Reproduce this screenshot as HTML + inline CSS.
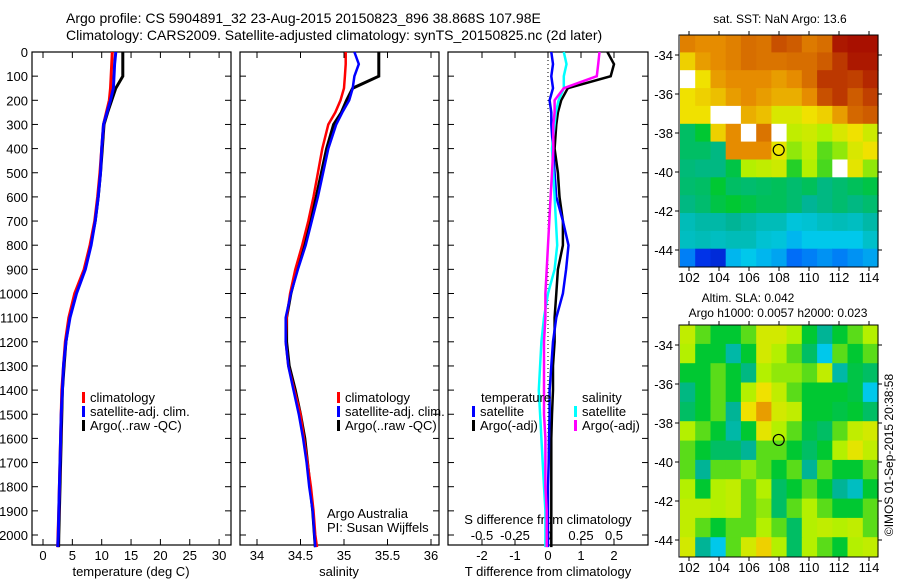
<!DOCTYPE html>
<html><head><meta charset="utf-8"><style>
html,body{margin:0;padding:0;background:#fff;}
svg{display:block;font-family:"Liberation Sans",sans-serif;}
</style></head><body>
<svg id="fig" width="900" height="580" viewBox="0 0 900 580" xmlns="http://www.w3.org/2000/svg">
<text x="66" y="23" font-size="14">Argo profile: CS 5904891_32 23-Aug-2015 20150823_896 38.868S 107.98E</text>
<text x="66" y="40" font-size="14">Climatology: CARS2009. Satellite-adjusted climatology: synTS_20150825.nc (2d later)</text>
<g id="plots"></g>
</svg>
<script>
// ---------- data ----------
const depthClim = [0,50,100,150,200,250,300,400,500,600,700,800,900,1000,1100,1200,1300,1400,1500,1600,1700,1800,1900,2000,2050];
const tempClim  = [11.8,11.7,11.6,11.5,11.3,10.8,10.3,10.0,9.7,9.3,8.8,8.0,7.0,5.4,4.4,3.8,3.5,3.2,3.1,3.0,2.9,2.8,2.7,2.55,2.5];
const tempSat   = [12.4,12.2,12.1,12.0,11.5,10.9,10.3,10.0,9.8,9.4,8.9,8.2,7.2,5.7,4.6,3.9,3.5,3.3,3.1,3.0,2.9,2.8,2.7,2.6,2.5];
const tempArgo  = [13.6,13.6,13.6,12.4,11.7,11.0,10.4,10.1,9.8,9.4,8.9,8.1,7.1,5.6,4.5,3.9,3.6,3.3,3.2,3.1,3.0,2.9,2.8,2.7,2.65];
const salClim   = [35.02,35.02,35.01,35.0,34.96,34.9,34.82,34.75,34.70,34.65,34.59,34.52,34.44,34.38,34.34,34.33,34.36,34.43,34.50,34.54,34.58,34.62,34.65,34.67,34.69];
const salSat    = [35.12,35.17,35.12,35.1,35.06,34.98,34.91,34.82,34.76,34.70,34.63,34.56,34.47,34.39,34.33,34.33,34.36,34.42,34.48,34.53,34.57,34.60,34.64,34.66,34.67];
const salArgo   = [35.4,35.4,35.4,35.1,35.03,34.97,34.88,34.80,34.74,34.68,34.61,34.54,34.46,34.39,34.34,34.34,34.37,34.44,34.50,34.55,34.58,34.61,34.64,34.66,34.67];
const dTSat  = [0.1,0.15,0.1,0.15,0.05,0.1,0.1,0.15,0.2,0.25,0.45,0.62,0.55,0.45,0.25,0.15,0.1,0.05,0.05,0.03,0.02,0.0,0.0,0.0,0.0];
const dTArgo = [1.8,2.0,1.9,0.6,0.4,0.3,0.25,0.2,0.3,0.35,0.45,0.45,0.3,0.25,0.2,0.2,0.15,0.15,0.12,0.1,0.1,0.1,0.1,0.1,0.1];
const dSSat  = [0.12,0.14,0.12,0.12,0.08,0.06,0.05,0.03,0.04,0.05,0.06,0.07,0.05,0.0,-0.03,-0.05,-0.06,-0.07,-0.06,-0.05,-0.04,-0.03,-0.02,-0.02,-0.02];
const dSArgo = [0.39,0.38,0.37,0.12,0.05,0.05,0.04,0.04,0.03,0.02,0.01,0.0,-0.01,-0.02,-0.02,-0.03,-0.03,-0.03,-0.03,-0.02,-0.02,-0.02,-0.01,-0.01,-0.01];
const depthTicks = [0,100,200,300,400,500,600,700,800,900,1000,1100,1200,1300,1400,1500,1600,1700,1800,1900,2000];
const tempTicks = [0,5,10,15,20,25,30];
const salTicks = ["34","34.5","35","35.5","36"];
const dTTicks = [-2,-1,0,1,2];
const dSTickLabels = ["-0.5","-0.25","0","0.25","0.5"];
const lonTicks = [102,104,106,108,110,112,114];
const latTicks = [-34,-36,-38,-40,-42,-44];
const sstGrid = [
[.82,.80,.80,.82,.85,.84,.90,.88,.83,.85,.97,.98,.98],
[.72,.78,.80,.82,.85,.84,.84,.85,.85,.88,.93,.97,.97],
[null,.70,.78,.80,.80,.80,.78,.80,.85,.93,.93,.92,.95],
[.70,.72,.74,.78,.80,.78,.76,.76,.80,.90,.93,.88,.92],
[.70,.70,null,null,.76,.74,.66,.66,.70,.72,.78,.86,.88],
[.45,.50,.72,.80,null,.84,null,.62,.64,.60,.66,.70,.64],
[.45,.45,.42,.80,.80,.80,.68,.58,.62,.55,.58,.66,.70],
[.43,.42,.42,.48,.60,.62,.64,.52,.60,.54,null,.68,.58],
[.44,.45,.50,.45,.44,.45,.46,.44,.46,.42,.44,.46,.48],
[.42,.44,.48,.50,.48,.46,.46,.44,.40,.42,.44,.42,.44],
[.36,.38,.38,.40,.38,.36,.36,.32,.33,.35,.36,.35,.38],
[.35,.36,.35,.36,.36,.33,.32,.28,.30,.30,.30,.30,.34],
[.22,.12,.10,.28,.30,.28,.26,.20,.22,.24,.22,.24,.26]];
const slaGrid = [
[.62,.55,.50,.50,.55,.65,.65,.60,.50,.40,.50,.55,.60],
[.60,.50,.50,.38,.50,.65,.60,.55,.45,.30,.55,.50,.55],
[.50,.50,.55,.50,.42,.60,.58,.58,.55,.62,.38,.48,.45],
[.42,.50,.55,.50,.60,.70,.62,.55,.50,.50,.50,.48,.30],
[.45,.50,.55,.40,.70,.78,.65,.62,.50,.50,.48,.50,.45],
[.60,.55,.50,.38,.50,.68,.60,.55,.48,.45,.55,.62,.65],
[.55,.50,.45,.45,.40,.55,.55,.50,.45,.50,.60,.68,.62],
[.55,.40,.55,.55,.58,.55,.50,.55,.40,.55,.50,.50,.55],
[.60,.50,.60,.62,.55,.60,.45,.50,.55,.50,.40,.35,.50],
[.62,.62,.60,.62,.55,.58,.45,.55,.60,.55,.50,.50,.55],
[.62,.55,.50,.55,.55,.60,.55,.45,.60,.62,.60,.62,.55],
[.65,.40,.30,.55,.65,.72,.60,.45,.60,.55,.50,.60,.62]];
const argoLon = 107.98, argoLat = -38.868;

// ---------- helpers ----------
const NS="http://www.w3.org/2000/svg";
const root=document.getElementById('plots');
function mk(tag,attrs,parent){const e=document.createElementNS(NS,tag);for(const k in attrs)e.setAttribute(k,attrs[k]);(parent||root).appendChild(e);return e;}
function txt(x,y,s,size,anchor,parent){const t=mk('text',{x:x,y:y,'font-size':size||13,'text-anchor':anchor||'start'},parent);t.textContent=s;return t;}
const yD=d=>52+d*0.2415;
const Y0=52,Y1=545;

function panel(name,x0,x1){
  const g=mk('g',{});
  
  
  const r=mk('rect',{x:x0,y:Y0,width:x1-x0,height:Y1-Y0,fill:'none',stroke:'#000','stroke-width':1.2},g);
  
  
  depthTicks.forEach(d=>{const y=yD(d);mk('line',{x1:x0,x2:x0+6,y1:y,y2:y,stroke:'#000'},g);mk('line',{x1:x1-6,x2:x1,y1:y,y2:y,stroke:'#000'},g);});
  return g;
}
function xticks(g,xs,labels,x0,x1,ly){
  xs.forEach((x,i)=>{mk('line',{x1:x,x2:x,y1:Y1,y2:Y1-6,stroke:'#000'},g);mk('line',{x1:x,x2:x,y1:Y0,y2:Y0+6,stroke:'#000'},g);
    if(labels){const t=txt(x,ly,labels[i],13,'middle',g);}});
}
function line(g,xs,depths,color,name,w){
  const pts=xs.map((v,i)=>v.toFixed(1)+','+yD(depths[i]).toFixed(1)).join(' ');
  const p=mk('polyline',{points:pts,fill:'none',stroke:color,'stroke-width':w||2.5,'stroke-linejoin':'miter'},g);
  
  
}
function legend(g,x,y,color,label){
  mk('rect',{x:x,y:y-10,width:3,height:11,fill:color},g);
  const t=txt(x+8,y,label,13,'start',g);
  
  
}

const gy=mk('g',{});


depthTicks.forEach(d=>txt(28,yD(d)+5,String(d),13,'end',gy));

// ---------- panel 1 temperature ----------
const xT=t=>43+t*5.87;
const p1=panel('temperature-panel',32,231);
xticks(p1,tempTicks.map(xT),tempTicks.map(String),32,231,560);
const t1=txt(131,576,'temperature (deg C)',13,'middle',p1);

line(p1,tempArgo.map(xT),depthClim,'#000','argo-temperature-line',3);
line(p1,tempClim.map(xT),depthClim,'#f00','climatology-temperature-line',3);
line(p1,tempSat.map(xT),depthClim,'#00f','satellite-temperature-line',3);
legend(p1,82,402,'#f00','climatology');legend(p1,82,416,'#00f','satellite-adj. clim.');legend(p1,82,430,'#000','Argo(..raw -QC)');

// ---------- panel 2 salinity ----------
const xS=s=>257+(s-34)*87;
const p2=panel('salinity-panel',240,439);
xticks(p2,salTicks.map(s=>xS(parseFloat(s))),salTicks,240,439,560);
const t2=txt(339,576,'salinity',13,'middle',p2);

line(p2,salArgo.map(xS),depthClim,'#000','argo-salinity-line',3);
line(p2,salClim.map(xS),depthClim,'#f00','climatology-salinity-line',2.5);
line(p2,salSat.map(xS),depthClim,'#00f','satellite-salinity-line',2.5);
legend(p2,337,402,'#f00','climatology');legend(p2,337,416,'#00f','satellite-adj. clim.');legend(p2,337,430,'#000','Argo(..raw -QC)');
txt(327,518,'Argo Australia',13,'start',p2);
txt(327,532,'PI: Susan Wijffels',13,'start',p2);

// ---------- panel 3 differences ----------
const xdT=t=>548+t*33;
const xdS=s=>548+s*132;
const p3=panel('difference-panel',448,648);
xticks(p3,dTTicks.map(xdT),dTTicks.map(String),448,648,560);
dSTickLabels.forEach(s=>{const t=txt(xdS(parseFloat(s)),540,s,13,'middle',p3);});
txt(548,524,'S difference from climatology',13,'middle',p3);
txt(548,576,'T difference from climatology',13,'middle',p3);
mk('line',{x1:548,x2:548,y1:Y0,y2:Y1,stroke:'#000','stroke-dasharray':'1,3'},p3);
line(p3,dTArgo.map(xdT),depthClim,'#000','argo-t-diff-line',2.5);
line(p3,dTSat.map(xdT),depthClim,'#00f','satellite-t-diff-line',2.5);
line(p3,dSSat.map(xdS),depthClim,'#0ff','satellite-s-diff-line',2.5);
line(p3,dSArgo.map(xdS),depthClim,'#f0f','argo-s-diff-line',2.5);
txt(481,402,'temperature',13,'start',p3);txt(582,402,'salinity',13,'start',p3);
legend(p3,472,416,'#00f','satellite');legend(p3,472,430,'#000','Argo(-adj)');
legend(p3,574,416,'#0ff','satellite');legend(p3,574,430,'#f0f','Argo(-adj)');

// ---------- maps ----------
const stops=[[0,[0,0,140]],[.15,[0,64,255]],[.3,[0,200,235]],[.4,[0,180,150]],[.5,[0,200,50]],[.6,[180,240,0]],[.7,[240,225,0]],[.8,[230,140,0]],[.9,[200,80,0]],[1,[160,0,0]]];
function cmap(v){for(let i=1;i<stops.length;i++){if(v<=stops[i][0]){const a=stops[i-1],b=stops[i];const f=(v-a[0])/(b[0]-a[0]);const c=a[1].map((q,k)=>Math.round(q+(b[1][k]-q)*f));return 'rgb('+c.join(',')+')';}}return 'rgb(160,0,0)';}
function map(name,grid,top,fillDot){
  const g=mk('g',{});
  
  
  const L=679,R=878,T=top,B=top+232;
  const xL=lon=>689+(lon-102)*15;
  const yL=lat=>(top+20)+(-34-lat)*19.5;
  const lon0=101.4,lat0=-32.95,dLon=(114.6-101.4)/13,dLat=(44.85-32.95)/grid.length;
  grid.forEach((row,i)=>row.forEach((v,j)=>{
    const x=xL(lon0+j*dLon),y=yL(lat0-i*dLat);
    const c=mk('rect',{x:x.toFixed(1),y:y.toFixed(1),width:(dLon*15+0.6).toFixed(1),height:(dLat*19.5+0.6).toFixed(1),fill:v===null?'#fff':cmap(v)},g);
    
    
  }));
  mk('rect',{x:L,y:T,width:R-L,height:B-T,fill:'none',stroke:'#000'},g);
  lonTicks.forEach(l=>{const x=xL(l);mk('line',{x1:x,x2:x,y1:B,y2:B+4,stroke:'#000'},g);mk('line',{x1:x,x2:x,y1:T,y2:T-4,stroke:'#000'},g);txt(x,B+15,String(l),13,'middle',g);});
  latTicks.forEach(l=>{const y=yL(l);mk('line',{x1:L-4,x2:L,y1:y,y2:y,stroke:'#000'},g);mk('line',{x1:R,x2:R+4,y1:y,y2:y,stroke:'#000'},g);txt(L-6,y+5,String(l),13,'end',g);});
  const m=mk('circle',{cx:xL(argoLon),cy:yL(argoLat),r:5.5,fill:fillDot,stroke:'#000','stroke-width':1.2},g);
  
  
}
map('sst-map',sstGrid,35,'#f0e600');
map('sla-map',slaGrid,325,'none');
txt(780,23,'sat. SST: NaN Argo: 13.6',12,'middle');
txt(748,302,'Altim. SLA: 0.042',12,'middle');
txt(778,317,'Argo h1000: 0.0057 h2000: 0.023',12,'middle');
const cr=txt(0,0,'©IMOS 01-Sep-2015 20:38:58',12,'middle');
cr.setAttribute('transform','translate(893,455) rotate(-90)');

</script>
</body></html>
